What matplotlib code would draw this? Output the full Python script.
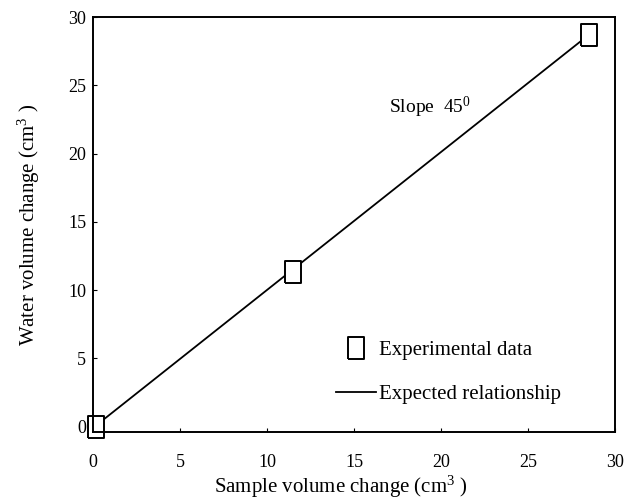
import matplotlib
matplotlib.use("Agg")
import matplotlib.pyplot as plt
from matplotlib.lines import Line2D

sample_change = [0.2, 11.5, 28.5]
water_change = [0.0, 11.3, 28.7]
line_x = [0.1, 28.6]
line_y = [0.0, 28.8]
ticks = [0, 5, 10, 15, 20, 25, 30]

plt.rcParams['font.family'] = ['Liberation Serif', 'DejaVu Serif']
plt.rcParams['mathtext.fontset'] = 'custom'
plt.rcParams['mathtext.rm'] = 'Liberation Serif'
plt.rcParams['mathtext.it'] = 'Liberation Serif:italic'
plt.rcParams['mathtext.bf'] = 'Liberation Serif:bold'

# tall rectangular marker
rect = [(-0.36, -0.5), (0.36, -0.5), (0.36, 0.5), (-0.36, 0.5), (-0.36, -0.5)]
mk = dict(linestyle='none', marker=rect, markersize=15.5,
          markerfacecolor='white', markeredgecolor='black', markeredgewidth=1.4)

fig = plt.figure(figsize=(6.32, 5.01), dpi=100)
ax = fig.add_axes([93 / 632, 1 - 432 / 501, 522 / 632, 415 / 501])

ax.plot(line_x, line_y, color='black', lw=1.3)
ax.plot(sample_change, water_change, clip_on=False, **mk)

ax.set_xlim(0, 30)
ax.set_ylim(-0.4, 30)
ax.set_xticks(ticks)
ax.set_yticks(ticks)
ax.tick_params(direction='in', length=3, width=0.8, labelsize=13)
ax.tick_params(axis='x', pad=16)
ax.tick_params(axis='y', pad=5)
for s in ax.spines.values():
    s.set_linewidth(1.4)

ax.set_xlabel('Sample volume change (cm$^{3}$ )', fontsize=15)
ax.xaxis.set_label_coords(0.475, -0.1)
ax.set_ylabel('Water volume change (cm$^{3}$ )', fontsize=15)
ax.yaxis.set_label_coords(-0.098, 0.5)

ax.text(17.0, 23.4, 'Slope  45$^{0}$', fontsize=14, ha='left', va='center')

handles = [Line2D([], [], **mk), Line2D([], [], color='black', lw=1.3)]
ax.legend(handles, ['Experimental data', 'Expected relationship'], loc='upper left',
          bbox_to_anchor=(0.45, 0.24), frameon=False, fontsize=15, handlelength=1.9,
          handletextpad=0.15, labelspacing=1.18, borderaxespad=0)

fig.savefig('out.png', dpi=100)
